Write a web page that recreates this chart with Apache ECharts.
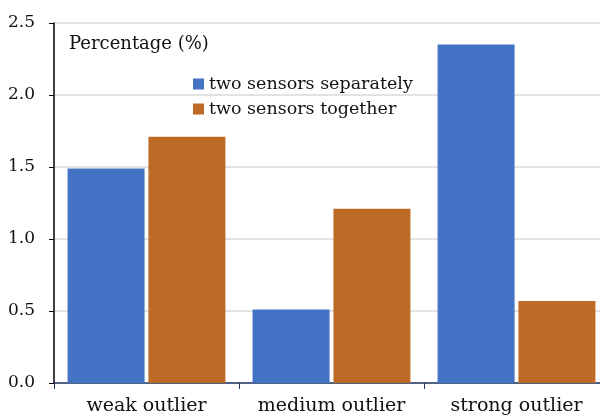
<!DOCTYPE html>
<html>
<head>
<meta charset="utf-8">
<script src="https://cdn.jsdelivr.net/npm/echarts@6/dist/echarts.min.js"></script>
<style>
  html, body { margin: 0; padding: 0; background: #ffffff; }
  #chart { width: 600px; height: 416px; }
</style>
</head>
<body>
<div id="chart"></div>
<script>
// Outlier detection rates by outlier strength
const categories = ['weak outlier', 'medium outlier', 'strong outlier'];
const separately = [1.49, 0.51, 2.35];
const together = [1.71, 1.21, 0.57];
const yTicks = { min: 0, max: 2.5, interval: 0.5 };

const FONT = 'DejaVu Serif';
const chart = echarts.init(document.getElementById('chart'));

chart.setOption({
  animation: false,
  backgroundColor: '#ffffff',
  title: {
    text: 'Percentage (%)',
    left: 64,
    top: 30,
    textStyle: { fontFamily: FONT, fontSize: 18, fontWeight: 'normal', color: '#111' }
  },
  legend: {
    orient: 'vertical',
    left: 188,
    top: 70,
    itemWidth: 11,
    itemHeight: 11,
    itemGap: 7,
    icon: 'rect',
    textStyle: { fontFamily: FONT, fontSize: 17.5, lineHeight: 18, color: '#111' },
    data: ['two sensors separately', 'two sensors together']
  },
  grid: { left: 54, top: 23, right: -9, height: 360, containLabel: false, outerBoundsMode: 'none' },
  xAxis: {
    type: 'category',
    data: categories,
    axisLine: { lineStyle: { color: '#1F3864', width: 1.5 } },
    axisTick: { show: true, interval: 0, length: 6, lineStyle: { color: '#1F3864' } },
    axisLabel: { interval: 0, hideOverlap: false, fontFamily: FONT, fontSize: 19, color: '#111', margin: 14 }
  },
  yAxis: {
    type: 'value',
    min: yTicks.min,
    max: yTicks.max,
    interval: yTicks.interval,
    axisLine: { show: true, lineStyle: { color: '#000', width: 1.5 } },
    axisTick: { show: true, length: 5, lineStyle: { color: '#000' } },
    axisLabel: {
      fontFamily: FONT, fontSize: 17, color: '#111', margin: 19,
      formatter: v => v.toFixed(1)
    },
    splitLine: { lineStyle: { color: '#D9D9D9', width: 1.5 } }
  },
  series: [
    {
      name: 'two sensors separately',
      type: 'bar',
      data: separately,
      barWidth: 77,
      barGap: '5%',
      itemStyle: { color: '#4472C4' }
    },
    {
      name: 'two sensors together',
      type: 'bar',
      data: together,
      barWidth: 77,
      itemStyle: { color: '#BE6A27' }
    }
  ]
});
</script>
</body>
</html>
